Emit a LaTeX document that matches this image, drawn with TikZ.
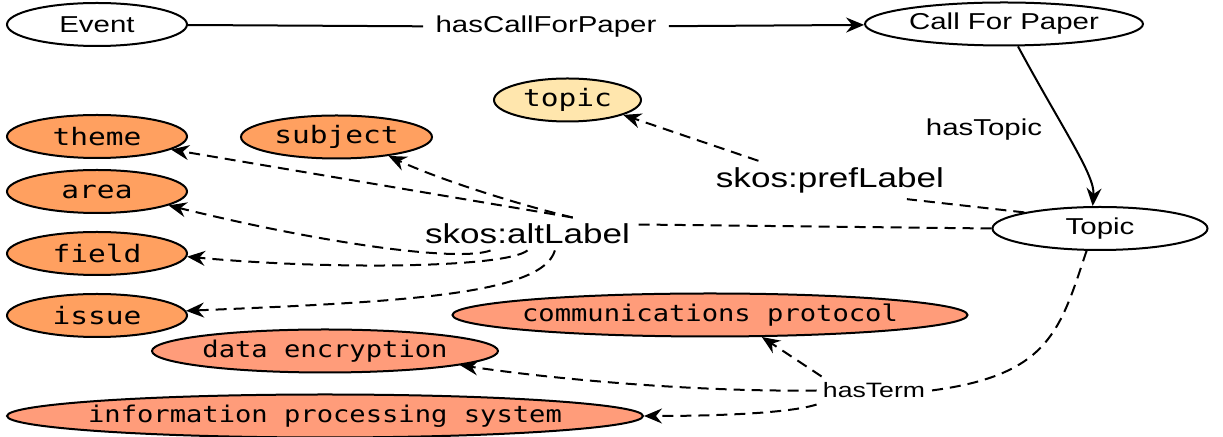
\documentclass[tikz,border=0pt]{standalone}
\usepackage{fontspec}
\setmainfont{Liberation Sans}
\newfontfamily\relfont{Liberation Sans}[FakeStretch=1.28]
\newfontfamily\termfont{DejaVu Sans Mono}[FakeStretch=1.23]
\newfontfamily\longtermfont{DejaVu Sans Mono}[FakeStretch=1.18]
\usetikzlibrary{shapes.geometric,arrows.meta}
\definecolor{altorange}{HTML}{FFA060}
\definecolor{termsalmon}{HTML}{FF9C7A}
\definecolor{prefcream}{HTML}{FFE6AD}

\begin{document}
\begin{tikzpicture}[x=0.5pt,y=-0.5pt,
		classnode/.style={draw,ellipse,line width=1pt,inner sep=-8pt,minimum height=21.5pt,font=\fontsize{11.5}{13}\relfont},
		altnode/.style={classnode,fill=altorange,minimum width=90pt,font=\fontsize{12}{14}\termfont},
		termnode/.style={classnode,fill=termsalmon,font=\fontsize{11.5}{13}\longtermfont},
		rellabel/.style={inner sep=3pt,font=\fontsize{11.5}{13}\relfont},
		skoslabel/.style={inner sep=3pt,font=\fontsize{13.7}{16}\relfont},
		plainline/.style={line width=1pt},
		relline/.style={plainline,-{Stealth[length=9pt,width=7.5pt,inset=3pt]}},
		dashplain/.style={plainline,dash pattern=on 5.5pt off 3.5pt},
		dashline/.style={relline,dash pattern=on 5.5pt off 3.5pt}]
			\useasboundingbox (0,0) rectangle (1223,437);
			
			\node[classnode,minimum width=90pt] (event) at (97,24.5) {Event};
			\node[classnode,minimum width=139pt] (cfp) at (1004,24) {Call For Paper};
			\node[classnode,minimum width=107.5pt] (topicclass) at (1100,228.5) {Topic};
			\node[classnode,fill=prefcream,minimum width=73.5pt,font=\fontsize{12}{14}\termfont] (topic) at (567.5,100) {topic};
			
			\node[altnode] (theme) at (97,136.5) {theme};
			\node[altnode] (area) at (97,191.5) {area};
			\node[altnode] (field) at (97,253.5) {field};
			\node[altnode] (issue) at (97,315.5) {issue};
			\node[altnode,minimum width=95.5pt] (subject) at (336.5,137) {subject};
			
			\node[termnode,minimum width=257.5pt] (comm) at (710,315) {communications protocol};
			\node[termnode,minimum width=173pt] (dataenc) at (325,351) {data encryption};
			\node[termnode,minimum width=318pt] (info) at (325,416) {information processing system};
			
			\node[rellabel,inner xsep=6pt] (hascfp) at (546,27) {hasCallForPaper};
			\node[rellabel] (hastopic) at (984,129.5) {hasTopic};
			\node[skoslabel] (pref) at (830,180) {skos:prefLabel};
			\node[skoslabel] (alt) at (527.5,234) {skos:altLabel};
			\node[rellabel,font=\fontsize{10.4}{12}\relfont] (hasterm) at (874,390.5) {hasTerm};
			
			\draw[plainline] (event) -- (hascfp);
			\draw[relline] (hascfp) -- (cfp);
			\draw[relline] (cfp.-58) .. controls (1062,128) and (1095,175) .. (topicclass.108);
			
			\draw[dashplain] (topicclass.168) -- (pref.-14);
			\draw[dashline] (pref.165) -- (topic.-15);
			
			\draw[dashplain] (topicclass.west) -- (alt.5);
			\draw[dashline] (alt.20) -- (theme.-10);
			\draw[dashline] (alt.20) .. controls (520,205) and (440,180) .. (subject.-20);
			\draw[dashline] (alt.-156) .. controls (460,262) and (330,245) .. (area.-11);
			\draw[dashline] (alt.south) .. controls (505,268) and (330,270) .. (field.-2);
			\draw[dashline] (alt.-31) .. controls (542,295) and (400,302) .. (issue.3);
			
			\draw[dashplain] (topicclass.-121) .. controls (1060,330) and (1050,375) .. (hasterm.east);
			\draw[dashline] (hasterm.165) -- (comm.-23);
			\draw[dashline] (hasterm.west) .. controls (700,392) and (560,380) .. (dataenc.-6);
			\draw[dashline] (hasterm.south west) .. controls (790,413) and (720,416) .. (info.east);
		\end{tikzpicture}
\end{document}
